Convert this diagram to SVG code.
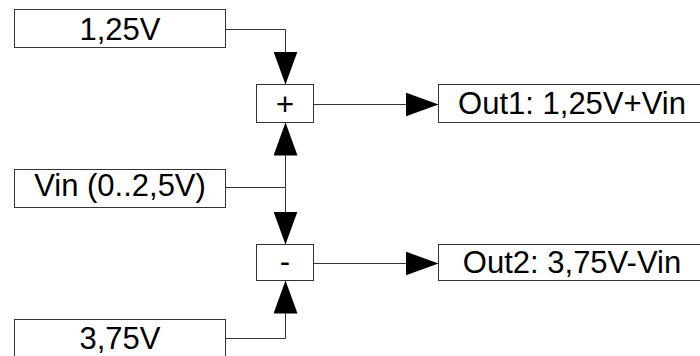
<svg xmlns="http://www.w3.org/2000/svg" width="700" height="356" viewBox="0 0 700 356">
<style>
.box{fill:#fff;stroke:#333;stroke-width:1}
.lbl{font-family:"Liberation Sans",Arial,sans-serif;font-size:31px;fill:#000;text-anchor:middle}
.wire{fill:none;stroke:#333;stroke-width:1;marker-end:url(#arr)}
.wire2{fill:none;stroke:#333;stroke-width:1}
</style>
<defs>
<marker id="arr" markerUnits="userSpaceOnUse" viewBox="0 0 33 24" refX="33" refY="12" markerWidth="33" markerHeight="24" orient="auto">
<path d="M0,0 L33,12 L0,24 Z" fill="#000"/>
</marker>
</defs>
<rect width="700" height="356" fill="#fff"/>
<g id="connectors">
<path class="wire" d="M225.5,29.5 H285.5 V84.5"/>
<path class="wire2" d="M225.5,187.5 H285.5"/>
<path class="wire" d="M285.5,187.5 V122.5"/>
<path class="wire" d="M285.5,187.5 V244.5"/>
<path class="wire" d="M225.5,338.5 H285.5 V280.5"/>
<path class="wire" d="M313.5,104.5 H438.5"/>
<path class="wire" d="M313.5,263.5 H438.5"/>
</g>
<g id="n125">
<rect class="box" x="14.5" y="9.5" width="211" height="38"/>
<text class="lbl" x="120" y="39.5">1,25V</text>
</g>
<g id="nvin">
<rect class="box" x="14.5" y="169.5" width="211" height="38"/>
<text class="lbl" x="120" y="196">Vin (0..2,5V)</text>
</g>
<g id="n375">
<rect class="box" x="14.5" y="319.5" width="211" height="40"/>
<text class="lbl" x="120" y="349">3,75V</text>
</g>
<g id="nplus">
<rect class="box" x="256.5" y="84.5" width="57" height="38"/>
<text class="lbl" x="285" y="115">+</text>
</g>
<g id="nminus">
<rect class="box" x="256.5" y="244.5" width="57" height="36"/>
<text class="lbl" x="285" y="272">-</text>
</g>
<g id="nout1">
<rect class="box" x="438.5" y="84.5" width="268" height="38"/>
<text class="lbl" x="572" y="114">Out1: 1,25V+Vin</text>
</g>
<g id="nout2">
<rect class="box" x="438.5" y="244.5" width="268" height="36"/>
<text class="lbl" x="572" y="273">Out2: 3,75V-Vin</text>
</g>
</svg>
